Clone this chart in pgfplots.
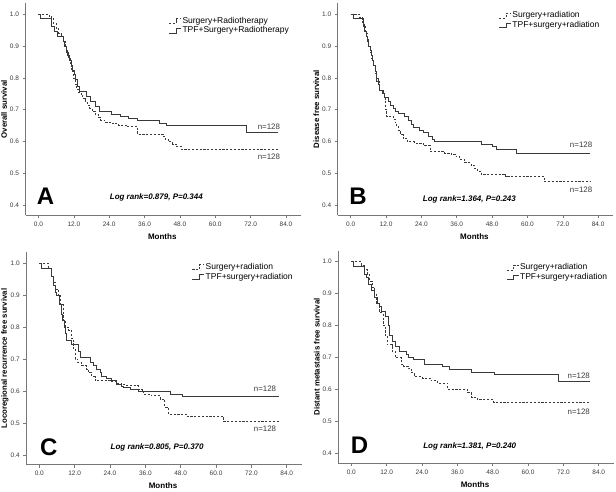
\documentclass[border=0pt]{standalone}
\usepackage{fontspec}
\setmainfont{Liberation Sans}
\usepackage{pgfplots}
\pgfplotsset{compat=1.18}
\definecolor{curve}{HTML}{3A3A3A}
\definecolor{axisgray}{HTML}{777777}
\definecolor{txtgray}{HTML}{3C3C3C}
\pgfplotsset{
  km/.style={
    scale only axis, anchor=south west,
    width=275.5pt, height=212.5pt,
    xmin=-4.41, xmax=89.1, ymin=0.3687, ymax=1.0345,
    axis x line*=bottom, axis y line*=left,
    axis line style={-, draw=axisgray, line width=0.6pt},
    tick style={draw=axisgray, line width=0.6pt},
    tick align=outside, major tick length=3pt,
    xtick={0,12,24,36,48,60,72,84},
    ytick={0.4,0.5,0.6,0.7,0.8,0.9,1.0},
    /pgf/number format/assume math mode=true,
    xticklabel style={/pgf/number format/.cd, fixed, fixed zerofill, precision=1},
    yticklabel style={/pgf/number format/.cd, fixed, fixed zerofill, precision=1},
    tick label style={font=\fontsize{6.5}{7}\selectfont, text=txtgray},
    xlabel={Months},
    xlabel style={at={(axis cs:42,0.3687)}, anchor=center, yshift=-21pt, font=\bfseries\fontsize{8}{9}\selectfont, text=black},
    ylabel style={at={(axis description cs:-0.078,0.5)}, anchor=center, font=\bfseries\fontsize{7.8}{9}\selectfont, text=black},
    clip=false,
    legend cell align=left,
    legend image code/.code={\draw[##1] (0pt,-2.3pt) -- (7pt,-2.3pt) -- (7pt,2.3pt) -- (12pt,2.3pt);},
    legend style={draw=none, fill=none, anchor=north west, inner sep=0pt,
      font=\fontsize{8.5}{9}\selectfont, row sep=0pt,
      nodes={inner sep=1pt, text=black}},
  },
  dsh/.style={const plot, draw=curve, line width=0.6pt, dash pattern=on 2.2pt off 1.6pt},
  sol/.style={const plot, draw=curve, line width=0.6pt},
}
\newcommand{\letter}[1]{\fontsize{24}{24}\selectfont\bfseries #1}
\begin{document}
\begin{tikzpicture}
\useasboundingbox (0pt,0pt) rectangle (616pt,492pt);

% ---------------- A
\begin{axis}[km, at={(25.5pt,276.5pt)}, ylabel={Overall survival},
  legend style={at={(axis cs:44.2,0.994)}}]
\addplot[dsh] coordinates {(0,1.0)(3.6,0.992)(4.3,0.985)(5.0,0.97)(6.0,0.955)(6.8,0.94)(7.6,0.93)(8.5,0.915)(9.0,0.90)(9.6,0.88)(10.2,0.86)(10.7,0.84)(11.3,0.82)(11.9,0.80)(12.5,0.78)(13.0,0.765)(13.6,0.755)(14.4,0.745)(15.0,0.735)(15.8,0.725)(16.5,0.715)(17.3,0.705)(18.2,0.695)(19.2,0.685)(20.2,0.675)(21.0,0.668)(22.5,0.662)(25.0,0.657)(27.0,0.652)(30.3,0.647)(33.7,0.623)(42.2,0.616)(43.0,0.607)(44.2,0.60)(45.5,0.593)(46.8,0.586)(48.5,0.576)(81.2,0.576)};
\addlegendentry{Surgery+Radiotherapy}
\addplot[sol] coordinates {(0,1.0)(0.5,0.985)(4.2,0.96)(5.5,0.945)(6.5,0.93)(8.3,0.915)(8.9,0.90)(9.4,0.885)(9.9,0.87)(10.5,0.855)(11.0,0.84)(11.6,0.825)(12.1,0.81)(12.6,0.795)(13.2,0.775)(13.8,0.757)(16.3,0.741)(17.5,0.725)(19.3,0.71)(20.7,0.694)(24.6,0.687)(27.7,0.68)(30.6,0.673)(33.7,0.666)(40.9,0.659)(43.4,0.65)(70.4,0.628)(81.2,0.628)};
\addlegendentry{TPF+Surgery+Radiotherapy}
\node[font=\fontsize{7.9}{9}\selectfont, text=txtgray] at (axis cs:78.2,0.648) {n=128};
\node[font=\fontsize{7.9}{9}\selectfont, text=txtgray] at (axis cs:78.2,0.554) {n=128};
\node[font=\bfseries\itshape\fontsize{8}{9}\selectfont] at (axis cs:40,0.426) {Log rank=0.879, P=0.344};
\node at (axis cs:2.4,0.428) {\letter{A}};
\end{axis}

% ---------------- B
\begin{axis}[km, at={(337.7pt,276.5pt)}, ylabel={Disease free survival},
  legend style={at={(axis cs:50.2,1.011)}}]
\addplot[dsh] coordinates {(0,1.0)(3.0,0.99)(4.0,0.975)(4.5,0.96)(5.0,0.94)(5.5,0.92)(6.0,0.90)(6.5,0.88)(7.0,0.86)(7.6,0.84)(8.2,0.815)(8.8,0.79)(9.6,0.76)(10.8,0.75)(11.3,0.74)(11.7,0.70)(12.1,0.68)(14.3,0.67)(15.1,0.66)(15.6,0.648)(16.2,0.635)(16.9,0.622)(17.7,0.61)(19.2,0.60)(21.6,0.596)(24.5,0.588)(26.9,0.57)(31.8,0.565)(34.0,0.56)(35.7,0.553)(36.9,0.545)(38.6,0.535)(40.8,0.527)(42.0,0.518)(43.0,0.508)(44.2,0.499)(52.6,0.491)(65.6,0.475)(81.2,0.475)};
\addlegendentry{Surgery+radiation}
\addplot[sol] coordinates {(0,1.0)(0.8,0.985)(4.2,0.96)(4.7,0.945)(5.2,0.93)(5.6,0.915)(6.0,0.90)(6.5,0.885)(7.0,0.87)(7.4,0.855)(7.8,0.84)(8.2,0.82)(8.7,0.80)(9.2,0.78)(9.6,0.76)(10.9,0.75)(11.3,0.74)(12.6,0.725)(13.5,0.715)(14.3,0.705)(15.1,0.695)(16.0,0.688)(18.3,0.678)(19.4,0.668)(20.5,0.655)(21.4,0.645)(23.3,0.635)(24.5,0.628)(26.2,0.618)(27.8,0.608)(28.4,0.60)(44.2,0.593)(48.1,0.585)(49.3,0.575)(56.3,0.563)(81.2,0.563)};
\addlegendentry{TPF+surgery+radiation}
\node[font=\fontsize{7.9}{9}\selectfont, text=txtgray] at (axis cs:78.2,0.591) {n=128};
\node[font=\fontsize{7.9}{9}\selectfont, text=txtgray] at (axis cs:78.2,0.448) {n=128};
\node[font=\bfseries\itshape\fontsize{8}{9}\selectfont] at (axis cs:40.3,0.419) {Log rank=1.364, P=0.243};
\node at (axis cs:2.5,0.43) {\letter{B}};
\end{axis}

% ---------------- C
\begin{axis}[km, at={(26.3pt,27.2pt)}, ylabel={Locoregional recurrence free survival},
  legend style={at={(axis cs:51.8,1.004)}}]
\addplot[dsh] coordinates {(0,1.0)(3.0,0.985)(4.2,0.96)(4.8,0.94)(5.5,0.92)(6.4,0.90)(7.2,0.87)(8.1,0.82)(8.8,0.80)(10.0,0.79)(10.8,0.765)(11.5,0.73)(12.1,0.70)(12.9,0.69)(14.4,0.68)(16.0,0.668)(16.6,0.657)(17.8,0.645)(18.9,0.633)(24.0,0.63)(26.0,0.625)(28.0,0.62)(29.7,0.617)(33.6,0.605)(34.8,0.598)(35.3,0.59)(38.0,0.585)(41.0,0.575)(42.5,0.55)(43.8,0.528)(50.0,0.521)(62.5,0.505)(81.2,0.505)};
\addlegendentry{Surgery+radiation}
\addplot[sol] coordinates {(0,1.0)(0.8,0.985)(4.2,0.96)(4.6,0.93)(5.3,0.91)(5.9,0.90)(6.8,0.87)(7.4,0.84)(7.7,0.82)(8.5,0.80)(8.8,0.78)(9.3,0.76)(11.0,0.745)(13.3,0.725)(13.8,0.705)(17.4,0.69)(18.3,0.68)(19.5,0.668)(20.6,0.657)(21.2,0.647)(22.6,0.64)(24.6,0.632)(26.3,0.62)(27.7,0.615)(28.5,0.61)(30.8,0.605)(33.6,0.60)(44.4,0.59)(48.4,0.583)(81.2,0.583)};
\addlegendentry{TPF+surgery+radiation}
\node[font=\fontsize{7.9}{9}\selectfont, text=txtgray] at (axis cs:76.6,0.606) {n=128};
\node[font=\fontsize{7.9}{9}\selectfont, text=txtgray] at (axis cs:76.6,0.483) {n=128};
\node[font=\bfseries\itshape\fontsize{8}{9}\selectfont] at (axis cs:40,0.424) {Log rank=0.805, P=0.370};
\node at (axis cs:3.2,0.424) {\letter{C}};
\end{axis}

% ---------------- D
\begin{axis}[km, at={(338.3pt,28.8pt)}, ylabel={Distant metastasis free survival},
  legend style={at={(axis cs:52.6,0.9975)}}]
\addplot[dsh] coordinates {(0,1.0)(3.4,0.99)(4.5,0.975)(5.4,0.96)(6.2,0.94)(7.0,0.92)(7.7,0.90)(8.5,0.87)(9.6,0.84)(10.7,0.80)(11.5,0.77)(12.2,0.74)(13.8,0.72)(14.9,0.70)(16.9,0.68)(17.8,0.672)(19.2,0.665)(20.3,0.652)(21.4,0.64)(24.2,0.635)(27.0,0.628)(29.3,0.62)(32.7,0.60)(39.5,0.59)(40.8,0.575)(42.8,0.568)(48.3,0.56)(80.6,0.56)};
\addlegendentry{Surgery+radiation}
\addplot[sol] coordinates {(0,1.0)(0.6,0.985)(4.3,0.96)(5.1,0.95)(5.9,0.93)(6.8,0.91)(7.9,0.89)(8.7,0.87)(9.6,0.86)(10.2,0.845)(11.5,0.83)(12.4,0.80)(12.9,0.77)(13.9,0.75)(14.9,0.735)(16.4,0.72)(18.6,0.71)(19.2,0.70)(20.9,0.694)(24.8,0.678)(31.0,0.672)(33.3,0.662)(40.6,0.655)(48.5,0.648)(70.1,0.625)(81.0,0.625)};
\addlegendentry{TPF+surgery+radiation}
\node[font=\fontsize{7.9}{9}\selectfont, text=txtgray] at (axis cs:77.2,0.642) {n=128};
\node[font=\fontsize{7.9}{9}\selectfont, text=txtgray] at (axis cs:77.2,0.531) {n=128};
\node[font=\bfseries\itshape\fontsize{8}{9}\selectfont] at (axis cs:40.2,0.421) {Log rank=1.381, P=0.240};
\node at (axis cs:2.8,0.424) {\letter{D}};
\end{axis}
\end{tikzpicture}
\end{document}
